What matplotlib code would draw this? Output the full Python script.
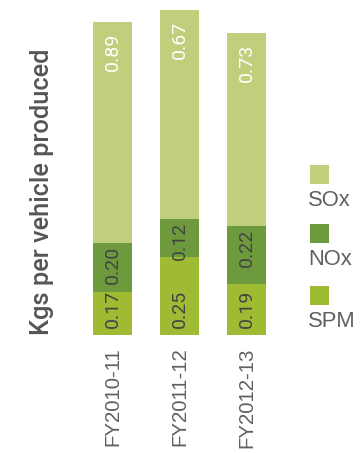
import numpy as np
import matplotlib.pyplot as plt
from matplotlib.patches import Rectangle

# data
years = ["FY2010-11", "FY2011-12", "FY2012-13"]
series = ["SOx", "NOx", "SPM"]
spm_label = [0.17, 0.25, 0.19]
nox_label = [0.20, 0.12, 0.22]
sox_label = [0.89, 0.67, 0.73]
# segment heights as drawn in the original (not to scale with the labels)
spm_drawn = [0.173, 0.315, 0.206]
nox_drawn = [0.198, 0.153, 0.234]
sox_drawn = [0.891, 0.843, 0.778]

colors = {"SOx": "#bfcf7b", "NOx": "#6d9a3d", "SPM": "#9fbb33"}

W, H = 364, 453
fig = plt.figure(figsize=(W / 100, H / 100), dpi=100)

# axes placed in pixel terms: bars centred at 112.5/179.5/246.5 px, baseline at 335 px
ax = fig.add_axes([79 / W, 118 / H, 201 / W, 335 / H])
x = np.arange(len(years))
bw = 39 / 67

spm = np.array(spm_drawn)
nox = np.array(nox_drawn)
sox = np.array(sox_drawn)
ax.bar(x, spm, bw, color=colors["SPM"])
ax.bar(x, nox, bw, bottom=spm, color=colors["NOx"])
ax.bar(x, sox, bw, bottom=spm + nox, color=colors["SOx"])

vfont = dict(family="Roboto", weight="normal", fontsize=14, rotation=90, ha="center")
for i in range(len(years)):
    ax.annotate(f"{sox_label[i]:.2f}", (x[i], spm[i] + nox[i] + sox[i]), xytext=(0, -8),
                textcoords="offset points", va="top", color="white", **vfont)
    ax.annotate(f"{nox_label[i]:.2f}", (x[i], spm[i] + nox[i]), xytext=(0, -2),
                textcoords="offset points", va="top", color="#444444", **vfont)
    ax.annotate(f"{spm_label[i]:.2f}", (x[i], 0), xytext=(0, 5),
                textcoords="offset points", va="bottom", color="#444444", **vfont)

ax.set_xlim(-0.5, len(years) - 0.5)
ax.set_ylim(0, 335 / 248)
ax.set_xticks(x)
ax.set_xticklabels(years, rotation=90, fontsize=14.7, family="Liberation Sans",
                   color="#606060", va="top")
ax.tick_params(axis="x", length=0, pad=9)
ax.set_yticks([])
for s in ax.spines.values():
    s.set_visible(False)

fig.text(42 / W, 1 - 191.5 / H, "Kgs per vehicle produced", rotation=90,
         ha="center", va="center", fontsize=18.3, weight="medium",
         family="Roboto", color="#555555")

# legend
for name, top in zip(series, [165, 224, 286]):
    fig.add_artist(Rectangle((310 / W, 1 - (top + 19) / H), 19 / W, 19 / H,
                             transform=fig.transFigure, color=colors[name], lw=0))
    fig.text(308 / W, 1 - (top + 25) / H, name, ha="left", va="top", fontsize=15.8,
             family="Liberation Sans", color="#606060")

fig.savefig("out.png", dpi=100)
